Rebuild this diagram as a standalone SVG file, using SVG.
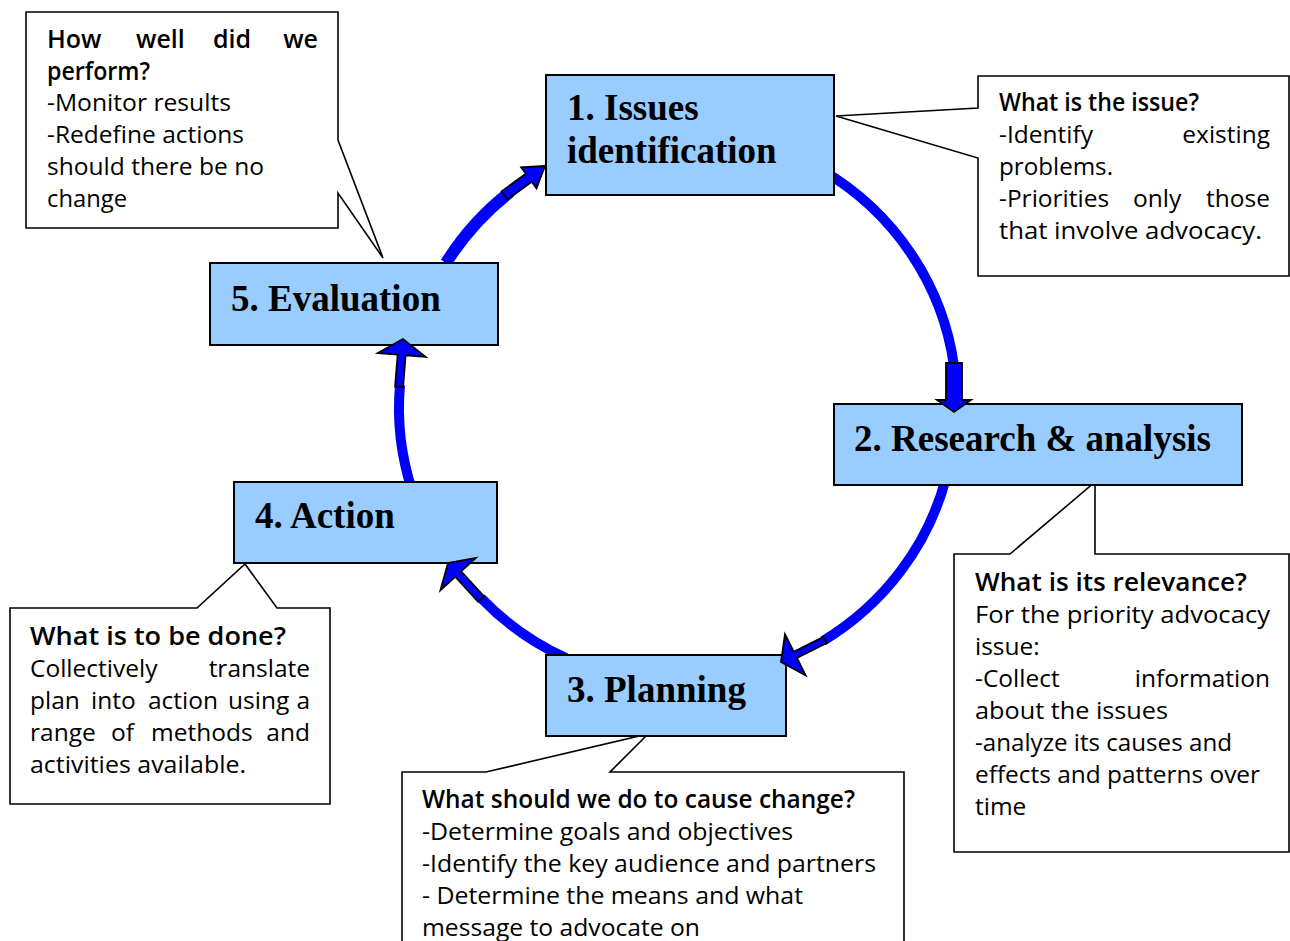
<svg xmlns="http://www.w3.org/2000/svg" width="1290" height="941" viewBox="0 0 1290 941">
<style>
.box{fill:#99ccff;stroke:#000;stroke-width:2}
.call{fill:#fff;stroke:#000;stroke-width:1.6;stroke-linejoin:miter}
.arc{fill:none;stroke:#0000ff;stroke-width:10}
.head{fill:#0000ff;stroke:#000;stroke-width:1.8;stroke-linejoin:miter}
.bt{font-family:'Liberation Serif','Times New Roman',serif;font-weight:bold;font-size:37px;fill:#000}
.t{font-family:'Open Sans','Noto Sans','Liberation Sans',sans-serif;font-size:24.5px;fill:#000}
.h{font-weight:600;font-size:25px}
.e{text-anchor:end}
</style>
<rect width="1290" height="941" fill="#fff"/>

<g id="connectors">
<path class="arc" style="stroke-width:12" d="M446,263 A279,271 0 0 1 510,192"/>
<path class="arc" d="M822,170 A279,271 0 0 1 954,366"/>
<path class="arc" d="M946,478 A279,271 0 0 1 823,641"/>
<path class="arc" d="M566,658 A279,271 0 0 1 481,598"/>
<path class="arc" d="M412,490 A279,271 0 0 1 400,385"/>
</g>

<g id="callout-evaluation">
<path class="call" d="M26,12 H338 V140 L383,258 L338,193 V228 H26 Z"/>
<text class="t h" x="47" y="48">How</text>
<text class="t h" x="136" y="48">well</text>
<text class="t h" x="213" y="48">did</text>
<text class="t h e" x="318" y="48">we</text>
<text class="t h" x="47" y="80" textLength="103" lengthAdjust="spacingAndGlyphs">perform?</text>
<text class="t" x="47" y="111" textLength="184" lengthAdjust="spacingAndGlyphs">-Monitor results</text>
<text class="t" x="47" y="143" textLength="197" lengthAdjust="spacingAndGlyphs">-Redefine actions</text>
<text class="t" x="47" y="175" textLength="217" lengthAdjust="spacingAndGlyphs">should there be no</text>
<text class="t" x="47" y="207" textLength="80" lengthAdjust="spacingAndGlyphs">change</text>
</g>

<g id="callout-issues">
<path class="call" d="M978,76 H1289 V276 H978 V158 L836,116 L978,108 Z"/>
<text class="t h" x="999" y="111" textLength="200" lengthAdjust="spacingAndGlyphs">What is the issue?</text>
<text class="t" x="999" y="143">-Identify</text>
<text class="t e" x="1270" y="143">existing</text>
<text class="t" x="999" y="175" textLength="114" lengthAdjust="spacingAndGlyphs">problems.</text>
<text class="t" x="999" y="207">-Priorities</text>
<text class="t" x="1133" y="207">only</text>
<text class="t e" x="1270" y="207">those</text>
<text class="t" x="999" y="239" textLength="263" lengthAdjust="spacingAndGlyphs">that involve advocacy.</text>
</g>

<g id="callout-research">
<path class="call" d="M954,554 H1010 L1095,482 V554 H1289 V852 H954 Z"/>
<text class="t h" x="975" y="591" textLength="272" lengthAdjust="spacingAndGlyphs">What is its relevance?</text>
<text class="t" x="975" y="623" textLength="295" lengthAdjust="spacingAndGlyphs">For the priority advocacy</text>
<text class="t" x="975" y="655">issue:</text>
<text class="t" x="975" y="687">-Collect</text>
<text class="t e" x="1270" y="687">information</text>
<text class="t" x="975" y="719" textLength="193" lengthAdjust="spacingAndGlyphs">about the issues</text>
<text class="t" x="975" y="751" textLength="257" lengthAdjust="spacingAndGlyphs">-analyze its causes and</text>
<text class="t" x="975" y="783" textLength="285" lengthAdjust="spacingAndGlyphs">effects and patterns over</text>
<text class="t" x="975" y="815">time</text>
</g>

<g id="callout-action">
<path class="call" d="M10,608 H197 L245,564 L277,608 H330 V804 H10 Z"/>
<text class="t h" x="30" y="645" textLength="256" lengthAdjust="spacingAndGlyphs">What is to be done?</text>
<text class="t" x="30" y="677">Collectively</text>
<text class="t e" x="310" y="677">translate</text>
<text class="t" x="30" y="709">plan</text>
<text class="t" x="91" y="709">into</text>
<text class="t" x="148" y="709">action</text>
<text class="t" x="228" y="709">using</text>
<text class="t e" x="310" y="709">a</text>
<text class="t" x="30" y="741">range</text>
<text class="t" x="111" y="741">of</text>
<text class="t" x="151" y="741">methods</text>
<text class="t e" x="310" y="741">and</text>
<text class="t" x="30" y="773" textLength="216" lengthAdjust="spacingAndGlyphs">activities available.</text>
</g>

<g id="callout-planning">
<path class="call" d="M402,772 H486 L648,734 L610,772 H904 V950 H402 Z"/>
<text class="t h" x="422" y="808" textLength="433" lengthAdjust="spacingAndGlyphs">What should we do to cause change?</text>
<text class="t" x="422" y="840" textLength="371" lengthAdjust="spacingAndGlyphs">-Determine goals and objectives</text>
<text class="t" x="422" y="872" textLength="454" lengthAdjust="spacingAndGlyphs">-Identify the key audience and partners</text>
<text class="t" x="422" y="904" textLength="381" lengthAdjust="spacingAndGlyphs">- Determine the means and what</text>
<text class="t" x="422" y="936" textLength="278" lengthAdjust="spacingAndGlyphs">message to advocate on</text>
</g>

<g id="node-1">
<rect class="box" x="546" y="75" width="288" height="120"/>
<text class="bt" x="567" y="120">1. Issues</text>
<text class="bt" x="567" y="163">identification</text>
</g>
<g id="node-2">
<rect class="box" x="834" y="404" width="408" height="81"/>
<text class="bt" x="854" y="451">2. Research &amp; analysis</text>
</g>
<g id="node-3">
<rect class="box" x="546" y="655" width="240" height="81"/>
<text class="bt" x="567" y="702">3. Planning</text>
</g>
<g id="node-4">
<rect class="box" x="234" y="482" width="263" height="81"/>
<text class="bt" x="255" y="528">4. Action</text>
</g>
<g id="node-5">
<rect class="box" x="210" y="263" width="288" height="82"/>
<text class="bt" x="231" y="311">5. Evaluation</text>
</g>

<g id="connector-arrowheads">
<polygon class="head" transform="translate(545,166) rotate(-36)" points="0,0 -20,-13 -20,-5 -50,-5 -50,5 -20,5 -20,13"/>
<polygon class="head" transform="translate(954,412) rotate(90)" points="0,0 -12,-17 -12,-8 -49,-8 -49,8 -12,8 -12,17"/>
<polygon class="head" transform="translate(781,662) rotate(153.4)" points="0,0 -16,-23 -16,-3.5 -49,-3.5 -49,3.5 -16,3.5 -16,23"/>
<polygon class="head" transform="translate(448,563) rotate(-132.5)" points="0,0 -15,-24 -15,-4 -49,-4 -49,4 -15,4 -15,24"/>
<polygon class="head" transform="translate(403,339) rotate(-85.3)" points="0,0 -16,-24 -16,-4 -48,-4 -48,4 -16,4 -16,24"/>
</g>
</svg>
